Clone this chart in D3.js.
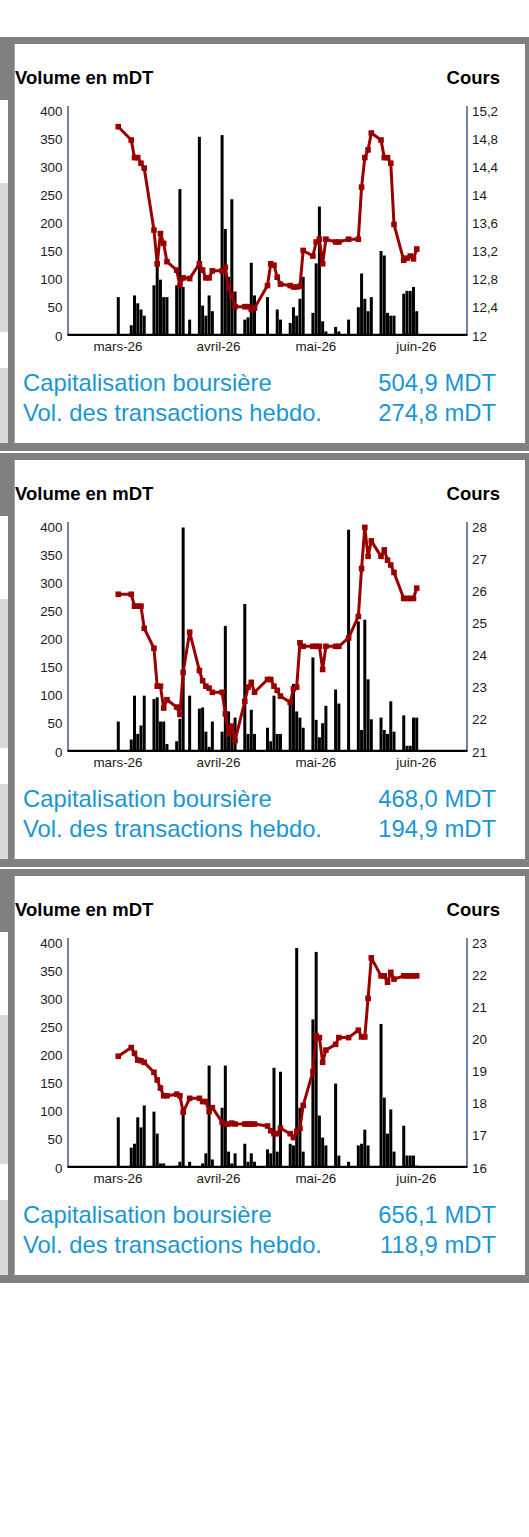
<!DOCTYPE html>
<html>
<head>
<meta charset="utf-8">
<script src="https://cdnjs.cloudflare.com/ajax/libs/d3/7.8.5/d3.min.js"></script>
<style>
  body { margin: 0; background: #fff; }
  svg { display: block; }
  text { font-family: "Liberation Sans", Arial, sans-serif; }
</style>
</head>
<body>
<script>
var dates = ["2026-03-01","2026-03-05","2026-03-06","2026-03-07","2026-03-08","2026-03-09",
  "2026-03-12","2026-03-13","2026-03-14","2026-03-15","2026-03-16",
  "2026-03-19","2026-03-20","2026-03-21","2026-03-23",
  "2026-03-26","2026-03-27","2026-03-28","2026-03-29","2026-03-30",
  "2026-04-02","2026-04-03","2026-04-04","2026-04-05","2026-04-06",
  "2026-04-09","2026-04-10","2026-04-11","2026-04-12",
  "2026-04-16","2026-04-17","2026-04-18","2026-04-19","2026-04-20",
  "2026-04-23","2026-04-24","2026-04-25","2026-04-26","2026-04-27",
  "2026-04-30","2026-05-01","2026-05-02","2026-05-03","2026-05-04",
  "2026-05-07","2026-05-08","2026-05-11",
  "2026-05-14","2026-05-15","2026-05-16","2026-05-17","2026-05-18",
  "2026-05-21","2026-05-22","2026-05-23","2026-05-24","2026-05-25",
  "2026-05-28","2026-05-29","2026-05-30","2026-05-31","2026-06-01"];

var vol1 = [67,17,70,56,45,34, 88,127,98,67,67, 88,259,85,27, 352,52,34,70,42,
  355,188,103,241,77, 27,31,128,70, 67,0,0,45,27, 21,49,34,64,103, 39,127,228,24,6,
  14,6,27, 49,109,64,42,67, 149,141,39,34,34, 73,78,78,85,42];
var cours1 = [14.96,14.77,14.52,14.52,14.44,14.37, 13.49,13.01,13.44,13.30,13.04,
  12.92,12.70,12.81,12.80, 13.01,12.92,12.81,12.81,12.91, 12.91,12.96,12.67,12.56,12.40,
  12.40,12.40,12.36,12.38, 12.70,13.01,12.99,12.82,12.72, 12.70,12.68,12.68,12.69,13.20,
  13.12,13.32,13.36,13.01,13.36, 13.32,13.32,13.36, 13.36,14.10,14.52,14.63,14.87,
  14.77,14.52,14.52,14.44,13.57, 13.06,13.09,13.12,13.08,13.22];

var vol2 = [52,20,98,30,45,98, 92,95,52,52,12, 17,57,397,98, 75,77,34,7,52,
  34,222,70,45,59, 261,30,73,30, 41,17,98,30,30, 83,119,70,59,41, 166,55,24,49,80,
  109,84,393, 230,37,233,127,56, 59,37,30,88,34, 63,9,9,59,59];
var cours2 = [25.87,25.87,25.50,25.50,25.50,24.81, 24.19,23.01,23.01,22.33,22.59,
  22.36,22.13,23.44,24.69, 23.50,23.18,23.01,22.95,22.82, 22.82,22.15,21.53,21.77,21.32,
  22.54,22.98,23.13,22.82, 23.22,23.22,23.01,22.88,22.70, 22.51,22.93,22.98,24.36,24.25,
  24.25,24.25,24.25,23.53,24.25, 24.25,24.25,24.51, 25.18,26.67,27.95,27.05,27.53,
  27.05,27.25,26.93,26.78,26.55, 25.74,25.74,25.74,25.74,26.06];

var vol3 = [88,34,41,88,70,109, 98,59,6,6,0, 2,9,98,9, 0,6,24,180,13,
  105,180,27,6,24, 41,9,24,9, 31,24,176,27,169, 41,38,389,105,27, 262,382,91,52,38,
  148,20,9, 38,41,66,38,0, 254,123,59,102,27, 73,20,20,20,2];
var cours3 = [19.44,19.71,19.53,19.32,19.30,19.25, 18.94,18.70,18.45,18.21,18.21,
  18.26,18.21,17.70,18.13, 18.13,18.03,18.03,17.72,17.84, 17.39,17.33,17.33,17.36,17.33,
  17.33,17.33,17.33,17.33, 17.27,17.12,17.03,17.03,17.20, 17.03,16.91,17.10,17.20,17.91,
  18.96,20.08,20.02,19.25,19.63, 19.81,20.02,20.02, 20.25,20.04,20.04,21.24,22.50,
  21.94,21.94,21.74,22.05,21.84, 21.94,21.94,21.94,21.94,21.94];

var monthTicks = ["2026-03-01","2026-04-01","2026-05-01","2026-06-01"];
var monthLabels = ["mars-26","avril-26","mai-26","juin-26"];
var volTicks = [0,50,100,150,200,250,300,350,400];
var coursTicks1 = [12,12.4,12.8,13.2,13.6,14,14.4,14.8,15.2];
var coursTicks2 = [21,22,23,24,25,26,27,28];
var coursTicks3 = [16,17,18,19,20,21,22,23];
var capValues = ["504,9 MDT","468,0 MDT","656,1 MDT"];
var volValues = ["274,8 mDT","194,9 mDT","118,9 mDT"];

var panels = [
  {vol: vol1, cours: cours1, ticks: coursTicks1, cap: capValues[0], tx: volValues[0]},
  {vol: vol2, cours: cours2, ticks: coursTicks2, cap: capValues[1], tx: volValues[1]},
  {vol: vol3, cours: cours3, ticks: coursTicks3, cap: capValues[2], tx: volValues[2]}
];

var parse = d3.timeParse("%Y-%m-%d");
var days = dates.map(function(s) { return d3.timeHour.offset(parse(s), 12); });

var GRAY = "#808080", LIGHT = "#d9d9d9", NAVY = "#3c4a8c", RED = "#990000", BLUE = "#1a96d4";
var step = 416;

var svg = d3.select("body").append("svg")
    .attr("width", 529).attr("height", 1537);

var x = d3.scaleTime()
    .domain([new Date(2026, 1, 14), new Date(2026, 5, 17)])
    .range([68, 467]);
var y = d3.scaleLinear().domain([0, 400]).range([334.8, 109.8]);

function frame(g) {
  g.append("rect").attr("x", 0).attr("y", 37).attr("width", 529).attr("height", 414).attr("fill", GRAY);
  g.append("rect").attr("x", 15).attr("y", 44).attr("width", 510).attr("height", 399).attr("fill", "#fff");
  g.append("rect").attr("x", 14).attr("y", 44).attr("width", 1).attr("height", 399).attr("fill", "#a6a6a6");
  var side = [[100, 183, "#fff"], [183, 332, LIGHT], [332, 368, "#fff"], [368, 443, LIGHT]];
  side.forEach(function(s) {
    g.append("rect").attr("x", 0).attr("y", s[0]).attr("width", 8).attr("height", s[1] - s[0]).attr("fill", s[2]);
  });
}

function fmt(v) { return String(v).replace(".", ","); }

function drawPanel(p, i) {
  var g = svg.append("g").attr("transform", "translate(0," + (i * step) + ")");
  frame(g);

  var y2 = d3.scaleLinear().domain(d3.extent(p.ticks)).range([334.8, 109.8]);

  g.append("text").attr("x", 15).attr("y", 83.8)
      .attr("font-size", 18.5).attr("font-weight", "bold").text("Volume en mDT");
  g.append("text").attr("x", 500).attr("y", 83.8).attr("text-anchor", "end")
      .attr("font-size", 18.5).attr("font-weight", "bold").text("Cours");

  var rows = days.map(function(d, k) { return {date: d, vol: p.vol[k], cours: p.cours[k]}; });

  g.selectAll(".bar")
      .data(rows.filter(function(r) { return r.vol > 0; }))
      .enter().append("rect")
      .attr("class", "bar")
      .attr("x", function(d) { return x(d.date) - 1.5; })
      .attr("width", 3)
      .attr("y", function(d) { return y(d.vol); })
      .attr("height", function(d) { return y(0) - y(d.vol); })
      .attr("fill", "#000");

  var left = g.append("g").attr("transform", "translate(68,0)")
      .call(d3.axisLeft(y).tickValues(volTicks).tickSize(0).tickPadding(5.5));
  var right = g.append("g").attr("transform", "translate(467,0)")
      .call(d3.axisRight(y2).tickValues(p.ticks).tickSize(0).tickPadding(5).tickFormat(fmt));
  var bottom = g.append("g").attr("transform", "translate(0,334.8)")
      .call(d3.axisBottom(x).tickValues(monthTicks.map(function(s) { return d3.timeHour.offset(parse(s), 6); }))
        .tickSize(0).tickPadding(7).tickFormat(function(d, k) { return monthLabels[k]; }));

  [left, right, bottom].forEach(function(a) {
    a.select(".domain").remove();
    a.selectAll("text").attr("font-size", 13.4).attr("fill", "#1a1a1a")
        .style("font-family", "'Liberation Sans', Arial, sans-serif");
  });
  left.selectAll("text").attr("y", 1);
  right.selectAll("text").attr("y", 1);

  g.append("line").attr("x1", 68).attr("x2", 68).attr("y1", 106).attr("y2", 335)
      .attr("stroke", NAVY).attr("stroke-width", 1.4);
  g.append("line").attr("x1", 467).attr("x2", 467).attr("y1", 106).attr("y2", 335)
      .attr("stroke", NAVY).attr("stroke-width", 1.4);
  g.append("line").attr("x1", 67.5).attr("x2", 467.5).attr("y1", 334.8).attr("y2", 334.8)
      .attr("stroke", "#000").attr("stroke-width", 2.2);

  var pts = rows.filter(function(r) { return r.cours != null; });
  var line = d3.line()
      .x(function(d) { return x(d.date); })
      .y(function(d) { return y2(d.cours); });

  g.append("path").datum(pts)
      .attr("d", line)
      .attr("fill", "none")
      .attr("stroke", RED)
      .attr("stroke-width", 3)
      .attr("stroke-linejoin", "round");

  g.selectAll(".mark")
      .data(pts)
      .enter().append("rect")
      .attr("class", "mark")
      .attr("x", function(d) { return x(d.date) - 2.8; })
      .attr("y", function(d) { return y2(d.cours) - 2.8; })
      .attr("width", 5.6).attr("height", 5.6)
      .attr("fill", RED);

  g.append("text").attr("x", 23).attr("y", 390.5).attr("font-size", 23.8).attr("fill", BLUE)
      .text("Capitalisation boursière");
  g.append("text").attr("x", 496).attr("y", 390.5).attr("font-size", 23.8).attr("fill", BLUE)
      .attr("text-anchor", "end").text(p.cap);
  g.append("text").attr("x", 23).attr("y", 421).attr("font-size", 23.8).attr("fill", BLUE)
      .text("Vol. des transactions hebdo.");
  g.append("text").attr("x", 496).attr("y", 421).attr("font-size", 23.8).attr("fill", BLUE)
      .attr("text-anchor", "end").text(p.tx);
}

panels.forEach(drawPanel);
</script>
</body>
</html>
